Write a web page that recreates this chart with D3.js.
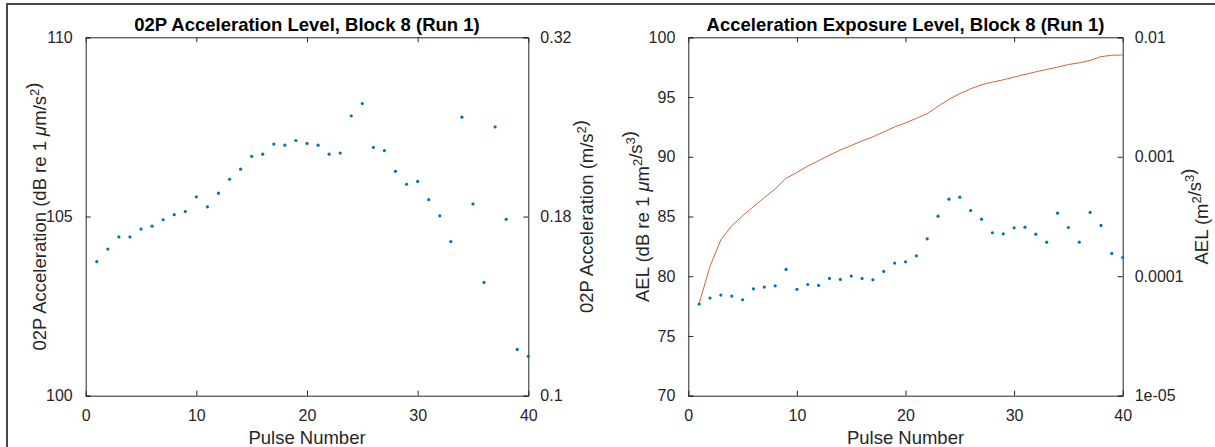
<!DOCTYPE html>
<html>
<head>
<meta charset="utf-8">
<script src="https://cdn.jsdelivr.net/npm/d3@7"></script>
<style>
  body { margin: 0; background: #fff; }
  svg text { font-family: "Liberation Sans", Arial, sans-serif; fill: #262626; }
</style>
</head>
<body>
<script>
// window size
var svgWidth = 1215;
var svgHeight = 447;

// ---- data ----
var pulses = d3.range(1, 41); // pulse numbers 1..40

// 02P acceleration level, dB re 1 um/s^2
var accelLevel = [103.74, 104.09, 104.43, 104.43, 104.65, 104.73, 104.91, 105.05, 105.14, 105.55,
                  105.27, 105.65, 106.04, 106.32, 106.68, 106.74, 107.02, 106.99, 107.12, 107.04,
                  106.99, 106.74, 106.77, 107.81, 108.15, 106.93, 106.84, 106.26, 105.90, 105.98,
                  105.47, 105.02, 104.30, 107.77, 105.35, 103.16, 107.50, 104.92, 101.29, 101.10];

// AEL per pulse, dB re 1 um^2/s^3
var aelPulse = [77.67, 78.17, 78.42, 78.34, 78.03, 78.95, 79.09, 79.20, 80.57, 78.90,
                79.31, 79.23, 79.82, 79.73, 80.01, 79.82, 79.70, 80.40, 81.10, 81.21,
                81.71, 83.13, 85.03, 86.45, 86.62, 85.50, 84.78, 83.64, 83.55, 84.05,
                84.11, 83.52, 82.85, 85.28, 84.08, 82.85, 85.34, 84.25, 81.91, 81.57];

// cumulative AEL line, dB re 1 um^2/s^3
var aelCum = [77.72, 80.83, 83.06, 84.22, 85.06, 85.83, 86.58, 87.31, 88.19, 88.69,
              89.22, 89.67, 90.14, 90.56, 90.94, 91.33, 91.67, 92.08, 92.50, 92.83,
              93.22, 93.61, 94.22, 94.81, 95.28, 95.69, 96.03, 96.25, 96.44, 96.67,
              96.89, 97.11, 97.31, 97.50, 97.72, 97.86, 98.06, 98.38, 98.50, 98.52];

// ticks
var xTicks = [0, 10, 20, 30, 40];
var accelTicks = [100, 105, 110];
var accelRightTicks = [0.1, 0.1778, 0.3162];
var accelRightLabels = ["0.1", "0.18", "0.32"];
var aelTicks = [70, 75, 80, 85, 90, 95, 100];
var aelRightTicks = [1e-5, 1e-4, 1e-3, 1e-2];
var aelRightLabels = ["1e-05", "0.0001", "0.001", "0.01"];

var dotColor = "#0072BD";
var lineColor = "#D5643A";
var axisColor = "#262626";

var svg = d3.select("body")
  .append("svg")
  .attr("width", svgWidth)
  .attr("height", svgHeight);

// outer frame
svg.append("rect")
  .attr("x", 7).attr("y", 4)
  .attr("width", 1220).attr("height", 460)
  .attr("fill", "none")
  .attr("stroke", "#4a4a4a")
  .attr("stroke-width", 2);

var panelTop = 37.3, panelBottom = 395.7;

function drawPanel(opt) {
  var x = d3.scaleLinear().domain([0, 40]).range([opt.left, opt.right]);
  var yL = d3.scaleLinear().domain(opt.yDomain).range([panelBottom, panelTop]);
  var yR = d3.scaleLog().domain(opt.yRDomain).range([panelBottom, panelTop]);
  var g = svg.append("g");
  var tk = 5;

  // bottom axis (ticks inward)
  var bottom = g.append("g")
    .attr("transform", "translate(0," + panelBottom + ")")
    .call(d3.axisBottom(x).tickValues(xTicks).tickSize(-tk).tickPadding(tk + 9));
  // top axis, ticks only
  var top = g.append("g")
    .attr("transform", "translate(0," + panelTop + ")")
    .call(d3.axisTop(x).tickValues(xTicks).tickSize(-tk).tickFormat(""));
  // left axis
  var left = g.append("g")
    .attr("transform", "translate(" + opt.left + ",0)")
    .call(d3.axisLeft(yL).tickValues(opt.yTicks).tickSize(-tk).tickPadding(tk + 8));
  // right axis (log)
  var right = g.append("g")
    .attr("transform", "translate(" + opt.right + ",0)")
    .call(d3.axisRight(yR).tickValues(opt.yRTicks).tickSize(-tk).tickPadding(tk + 7)
      .tickFormat(function(d, i) { return opt.yRLabels[i]; }));

  [bottom, top, left, right].forEach(function(a) {
    a.select(".domain").attr("stroke", axisColor).attr("stroke-width", 1);
    a.selectAll(".tick line").attr("stroke", axisColor);
    a.selectAll("text").style("font-size", "16px").attr("fill", axisColor)
      .style("font-family", '"Liberation Sans", Arial, sans-serif');
  });
  // endpoint ticks at the corners coincide with the frame; hide outer ticks
  bottom.selectAll(".tick line").filter(function(d) { return d === 0 || d === 40; }).remove();
  top.selectAll(".tick line").filter(function(d) { return d === 0 || d === 40; }).remove();

  // marks
  if (opt.line) {
    g.append("path")
      .datum(opt.line)
      .attr("fill", "none")
      .attr("stroke", lineColor)
      .attr("stroke-width", 1)
      .attr("d", d3.line()
        .x(function(d, i) { return x(pulses[i]); })
        .y(function(d) { return yL(d); }));
  }
  g.selectAll("circle.pt")
    .data(opt.points)
    .enter()
    .append("circle")
    .attr("class", "pt")
    .attr("cx", function(d, i) { return x(pulses[i]); })
    .attr("cy", function(d) { return yL(d); })
    .attr("r", 1.6)
    .attr("fill", dotColor);

  var cx = (opt.left + opt.right) / 2;
  // title
  g.append("text")
    .attr("x", cx).attr("y", 31)
    .attr("text-anchor", "middle")
    .style("font-size", "18.5px")
    .style("font-weight", "bold")
    .style("fill", "#000")
    .text(opt.title);
  // x label
  g.append("text")
    .attr("x", cx).attr("y", 444)
    .attr("text-anchor", "middle")
    .style("font-size", "18.5px")
    .text("Pulse Number");

  var cy = (panelTop + panelBottom) / 2;
  // left y label
  var tl = g.append("text")
    .attr("transform", "translate(" + opt.leftLabelX + "," + cy + ") rotate(-90)")
    .attr("text-anchor", "middle")
    .style("font-size", "18.5px");
  opt.leftLabel(tl);
  // right y label
  var tr = g.append("text")
    .attr("transform", "translate(" + opt.rightLabelX + "," + cy + ") rotate(-90)")
    .attr("text-anchor", "middle")
    .style("font-size", "18.5px");
  opt.rightLabel(tr);
}

function sup(t, s) {
  t.append("tspan").attr("dy", -7).style("font-size", "13px").text(s);
  t.append("tspan").attr("dy", 7).text("");
}

drawPanel({
  left: 85.7, right: 528.3,
  yDomain: [100, 110], yTicks: accelTicks,
  yRDomain: [0.1, 0.316227766], yRTicks: accelRightTicks, yRLabels: accelRightLabels,
  points: accelLevel,
  title: "02P Acceleration Level, Block 8 (Run 1)",
  leftLabelX: 46, rightLabelX: 593,
  leftLabel: function(t) {
    t.append("tspan").text("02P Acceleration (dB re 1 ");
    t.append("tspan").style("font-style", "italic").text("\u03bc");
    t.append("tspan").text("m/s");
    sup(t, "2");
    t.append("tspan").text(")");
  },
  rightLabel: function(t) {
    t.append("tspan").text("02P Acceleration (m/s");
    sup(t, "2");
    t.append("tspan").text(")");
  }
});

drawPanel({
  left: 688.3, right: 1122.7,
  yDomain: [70, 100], yTicks: aelTicks,
  yRDomain: [1e-5, 1e-2], yRTicks: aelRightTicks, yRLabels: aelRightLabels,
  points: aelPulse,
  line: aelCum,
  title: "Acceleration Exposure Level, Block 8 (Run 1)",
  leftLabelX: 649, rightLabelX: 1208,
  leftLabel: function(t) {
    t.append("tspan").text("AEL (dB re 1 ");
    t.append("tspan").style("font-style", "italic").text("\u03bc");
    t.append("tspan").text("m");
    sup(t, "2");
    t.append("tspan").text("/s");
    sup(t, "3");
    t.append("tspan").text(")");
  },
  rightLabel: function(t) {
    t.append("tspan").text("AEL (m");
    sup(t, "2");
    t.append("tspan").text("/s");
    sup(t, "3");
    t.append("tspan").text(")");
  }
});
</script>
</body>
</html>
